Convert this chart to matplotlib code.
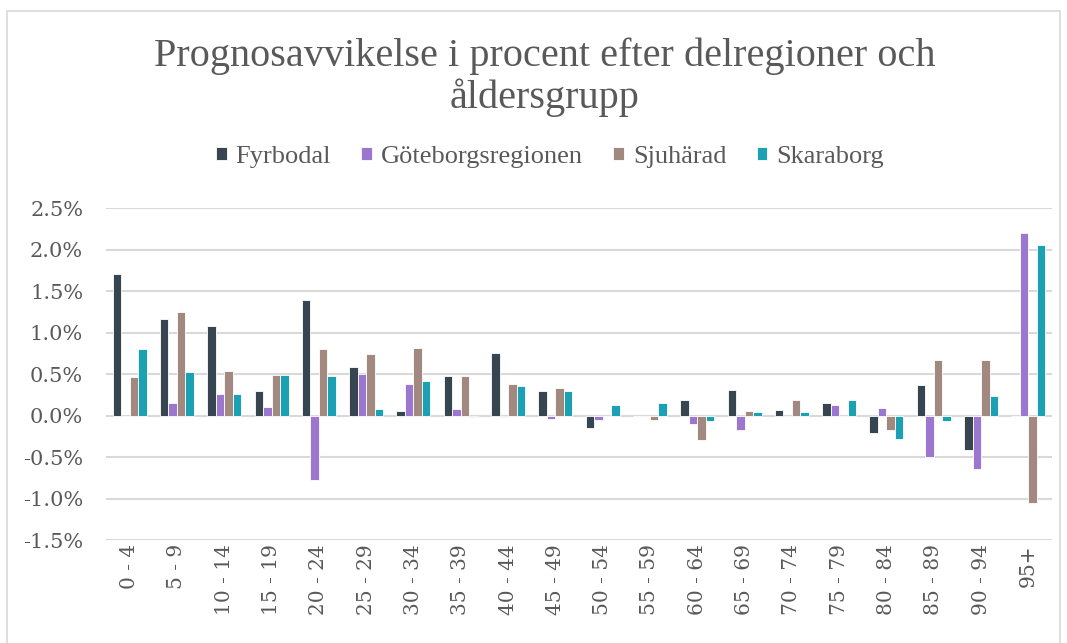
import numpy as np
import matplotlib.pyplot as plt
from matplotlib.patches import Rectangle

# age groups and forecast deviation per subregion (percent)
age_groups = ['0 - 4', '5 - 9', '10 - 14', '15 - 19', '20 - 24', '25 - 29', '30 - 34',
              '35 - 39', '40 - 44', '45 - 49', '50 - 54', '55 - 59', '60 - 64', '65 - 69',
              '70 - 74', '75 - 79', '80 - 84', '85 - 89', '90 - 94', '95+']

fyrbodal = [1.70, 1.16, 1.08, 0.30, 1.39, 0.58, 0.06, 0.48, 0.75, 0.29,
            -0.15, 0.00, 0.19, 0.31, 0.07, 0.15, -0.21, 0.37, -0.42, 0.00]
goteborg = [-0.01, 0.15, 0.26, 0.10, -0.78, 0.50, 0.38, 0.08, -0.02, -0.04,
            -0.05, 0.00, -0.10, -0.18, 0.00, 0.13, 0.09, -0.50, -0.65, 2.20]
sjuharad = [0.46, 1.25, 0.54, 0.49, 0.80, 0.74, 0.81, 0.47, 0.38, 0.33,
            0.00, -0.06, -0.29, 0.06, 0.19, 0.00, -0.18, 0.67, 0.67, -1.05]
skaraborg = [0.80, 0.53, 0.26, 0.49, 0.47, 0.08, 0.42, -0.02, 0.35, 0.29,
             0.13, 0.15, -0.07, 0.04, 0.04, 0.19, -0.28, -0.07, 0.24, 2.05]

series = [('Fyrbodal', fyrbodal, '#36454F'),
          ('Göteborgsregionen', goteborg, '#9B77CF'),
          ('Sjuhärad', sjuharad, '#A28980'),
          ('Skaraborg', skaraborg, '#1BA0B4')]

grey = '#595959'
serif = ['Liberation Serif', 'DejaVu Serif']
tickfont = ['DejaVu Serif']

fig = plt.figure(figsize=(10.67, 6.43), dpi=100)
fig.patches.append(Rectangle((7 / 1067, -0.01), 1053 / 1067, 1 - 11 / 643 + 0.01,
                             transform=fig.transFigure, fill=False,
                             edgecolor='#D9D9D9', linewidth=1.2))
ax = fig.add_axes([106 / 1067, 1 - 540 / 643, 946 / 1067, 332 / 643])

x = np.arange(len(age_groups))
w = 0.18
for k, (name, vals, col) in enumerate(series):
    ax.bar(x + (k - 1.5) * w, vals, w, color=col, edgecolor='white',
           linewidth=0.6, label=name, zorder=3)

ax.set_xlim(-0.5, len(age_groups) - 0.5)
ax.set_ylim(-1.5, 2.5)
ax.set_yticks(np.arange(-1.5, 2.51, 0.5))
ax.set_yticklabels([f'{v:.1f}%' for v in np.arange(-1.5, 2.51, 0.5)],
                   family=tickfont, fontsize=15, color=grey)
ax.set_xticks(x)
ax.set_xticklabels(age_groups, rotation=90, family=tickfont, fontsize=14.5, color=grey)
ax.tick_params(length=0)
ax.tick_params(axis='x', pad=3)
ax.tick_params(axis='y', pad=16.5)
ax.grid(axis='y', color='#D9D9D9', linewidth=1.5, zorder=0)
for s in ax.spines.values():
    s.set_visible(False)

fig.text(545 / 1067, 1 - 77 / 643, 'Prognosavvikelse i procent efter delregioner och\nåldersgrupp',
         ha='center', va='center', family=serif, fontsize=29, color=grey, linespacing=1.1)
fig.legend(loc='center', bbox_to_anchor=(550 / 1067, 1 - 157 / 643), ncol=4, frameon=False,
           prop={'family': serif, 'size': 19}, labelcolor=grey, handlelength=0.4,
           handleheight=0.4, handletextpad=0.34, columnspacing=1.15)

plt.savefig('out.png', dpi=100)
